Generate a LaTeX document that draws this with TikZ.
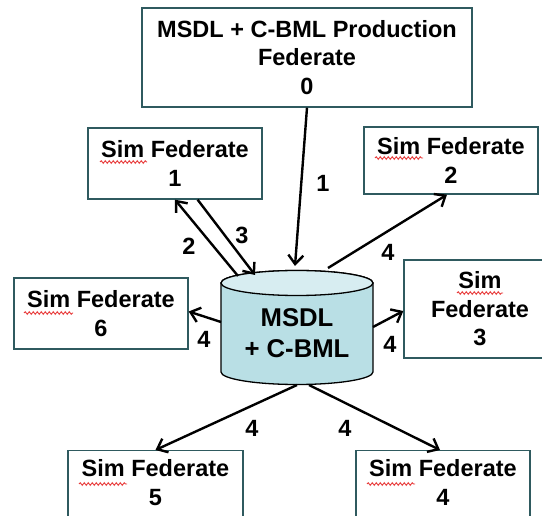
\documentclass[tikz,border=0pt]{standalone}
\usepackage{fontspec}
\setmainfont{Liberation Sans}
\usetikzlibrary{arrows.meta, decorations.pathmorphing}
\definecolor{boxline}{HTML}{2F5A5F}
\definecolor{cylfill}{HTML}{B9DFE5}
\definecolor{cyltop}{HTML}{D7EDF1}
\definecolor{squig}{HTML}{E83A3A}
\begin{document}
\begin{tikzpicture}[x=1pt, y=-1pt,
  box/.style={draw=boxline, line width=1.4pt, fill=white, align=center, inner sep=0pt,
    font=\bfseries\fontsize{23.5}{28.5}\selectfont},
  txt/.style={align=center, inner sep=0pt, font=\bfseries\fontsize{23.5}{28.5}\selectfont},
  dbtxt/.style={align=center, inner sep=0pt, font=\bfseries\fontsize{25.7}{31}\selectfont},
  lbl/.style={inner sep=0pt, font=\bfseries\fontsize{23.5}{28.5}\selectfont},
  conn/.style={line width=2.4pt, -{Straight Barb[length=9pt, width=15pt]}},
  squiggle/.style={draw=squig, line width=0.9pt, decorate,
    decoration={snake, amplitude=1.3pt, segment length=4pt}}]
\useasboundingbox (0,0) rectangle (542,516);
\clip (0,0) rectangle (542,516);

% boxes
\node[box, minimum width=330pt, minimum height=99pt] (p0) at (307,57.5)
  {MSDL + C-BML Production\\Federate\\0};
\node[box, minimum width=174pt, minimum height=71pt] (s1) at (175,163.5) {Sim Federate\\1};
\node[box, minimum width=174pt, minimum height=67pt] (s2) at (451,160.5) {Sim Federate\\2};
\node[box, minimum width=174pt, minimum height=71pt] (s6) at (101,313.5) {Sim Federate\\6};
\node[box, minimum width=152pt, minimum height=98pt] (s3) at (480,309) {Sim\\Federate\\3};
\node[box, minimum width=175pt, minimum height=80pt, anchor=north] (s5) at (155.5,450) {};
\node[txt] (s5t) at (155.5,482.5) {Sim Federate\\5};
\node[box, minimum width=174pt, minimum height=80pt, anchor=north] (s4) at (443,450) {};
\node[txt] (s4t) at (443,482.5) {Sim Federate\\4};

% spelling squiggles
\draw[squiggle] (100,162) -- (147,162);
\draw[squiggle] (375,158) -- (423,158);
\draw[squiggle] (24,313) -- (73,313);
\draw[squiggle] (457,293) -- (503,293);
\draw[squiggle] (79,484) -- (127,484);
\draw[squiggle] (367,484) -- (415,484);

% cylinder
\path[draw=black, fill=cylfill, line width=1.3pt]
  (221,283) -- (221,372) arc[start angle=180, end angle=360, x radius=76pt, y radius=12.5pt]
  -- (373,283) arc[start angle=0, end angle=180, x radius=76pt, y radius=12.5pt] -- cycle;
\draw[line width=1.3pt, fill=cyltop] (297,283) ellipse[x radius=76pt, y radius=12.5pt];
\node[dbtxt] (db) at (297,333) {MSDL\\+ C-BML};

% connectors
\coordinate (c1) at (295,266);
\coordinate (c2) at (238,276);
\coordinate (c3) at (255,275);
\coordinate (c4a) at (328,268);
\coordinate (c4b) at (221,322);
\coordinate (c4c) at (373,327);
\coordinate (c4d) at (297,385);
\coordinate (c4e) at (309,385);
\draw[conn] (p0.south) -- (c1);
\draw[conn] (c2) -- (s1.south);
\draw[conn] (s1.-58) -- (c3);
\draw[conn] (c4a) -- ([xshift=-4pt]s2.south);
\draw[conn] (c4b) -- ([yshift=2pt]s6.east);
\draw[conn] (c4c) -- ([yshift=-2pt]s3.west);
\draw[conn] (c4d) -- (s5.north);
\draw[conn] (c4e) -- ([xshift=-3pt]s4.north);

% labels
\node[lbl] (l1) at (323,183) {1};
\node[lbl] (l2) at (189,246) {2};
\node[lbl] (l3) at (242,235) {3};
\node[lbl] (l4a) at (388,252) {4};
\node[lbl] (l4b) at (204,339) {4};
\node[lbl] (l4c) at (390,344) {4};
\node[lbl] (l4d) at (252,428) {4};
\node[lbl] (l4e) at (345,428) {4};
\end{tikzpicture}
\end{document}
